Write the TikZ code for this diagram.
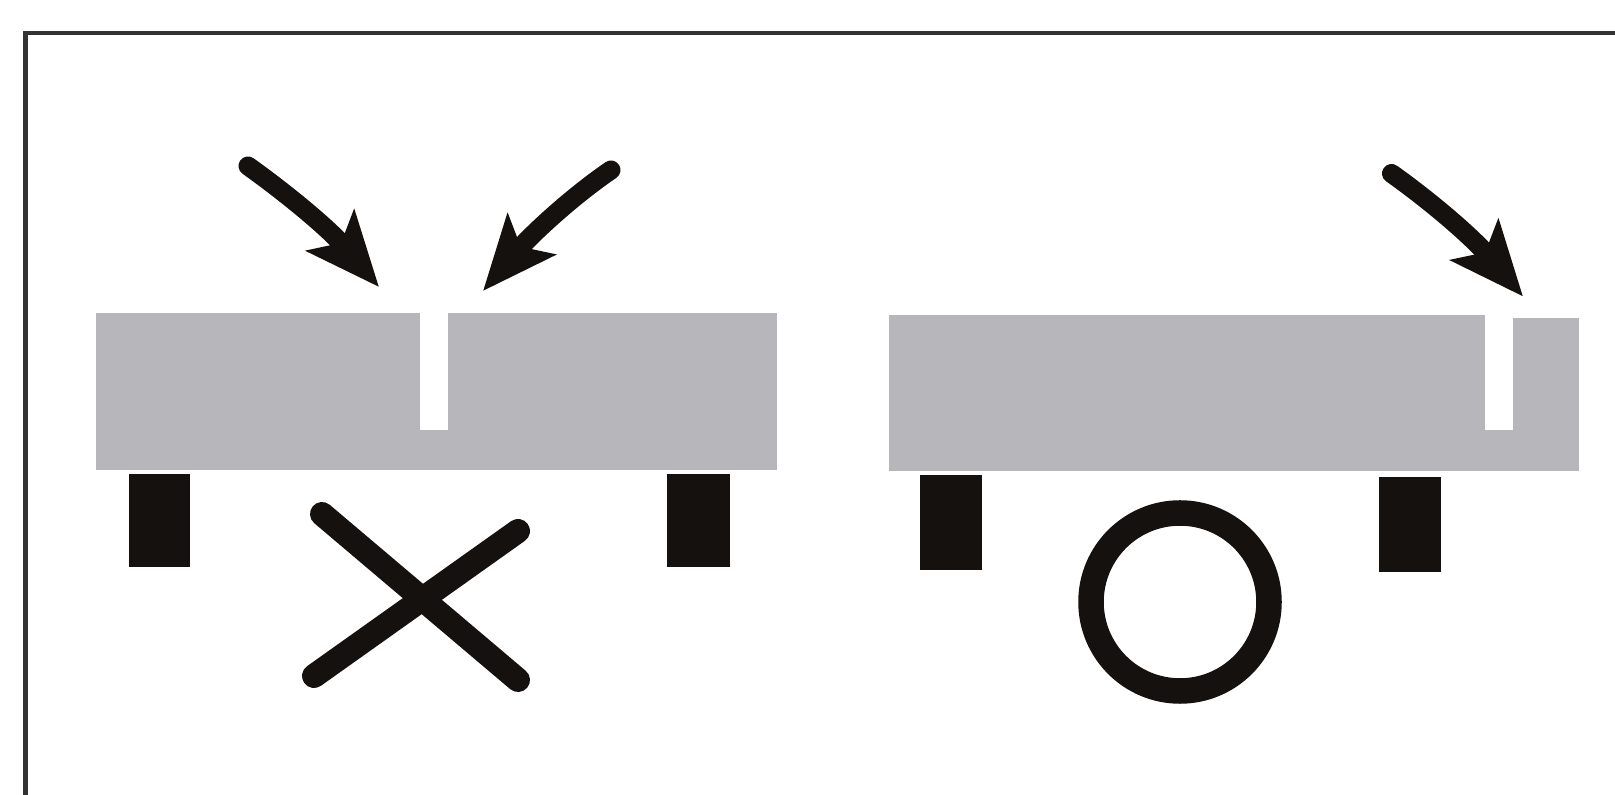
\documentclass[tikz,border=0pt]{standalone}
\usetikzlibrary{arrows.meta}
\definecolor{BeamGrey}{HTML}{B7B7BB}
\definecolor{FootBlack}{HTML}{14110E}
\definecolor{FrameGrey}{HTML}{333333}

\begin{document}
\begin{tikzpicture}[x=0.01cm, y=-0.01cm,
   beam/.style={fill=BeamGrey},
   slot/.style={fill=white},
   foot/.style={fill=FootBlack},
   crossbar/.style={draw=FootBlack, line width=0.24cm, line cap=round},
   hit/.style={draw=FootBlack, fill=FootBlack, line width=0.19cm, line cap=round,
               -{Stealth[length=0.74cm, width=0.62cm, inset=0.16cm]}}]
  \useasboundingbox (0,0) rectangle (1615,795);
  \draw[FrameGrey, line width=0.04cm] (25.5,795) -- (25.5,33) -- (1615,33);
  % left beam, slot in the middle
  \fill[beam] (96,313) rectangle (777,470.5);
  \fill[slot] (420,308) rectangle (447.5,430);
  \fill[foot] (128.5,474) rectangle (190,567.5);
  \fill[foot] (667,474) rectangle (730,567.5);
  % right beam, slot near the end
  \fill[beam] (889,315) rectangle (1484.5,471.5);
  \fill[beam] (1484,318) rectangle (1579,471.5);
  \fill[slot] (1484.5,308) rectangle (1512.5,430);
  \fill[foot] (919.5,475.5) rectangle (982,570.5);
  \fill[foot] (1379,477.5) rectangle (1440.5,572);
  % cross and circle
  \coordinate (c1) at (322,514);
  \coordinate (c2) at (518,680);
  \coordinate (c3) at (518,531);
  \coordinate (c4) at (314,676);
  \draw[crossbar] (c1) -- (c2);
  \draw[crossbar] (c3) -- (c4);
  \draw[draw=FootBlack, line width=0.255cm] (1180,602) circle (89);
  % arrows
  \coordinate (a1) at (248,166);
  \coordinate (b1) at (379,287);
  \coordinate (a2) at (611,170);
  \coordinate (b2) at (483,291);
  \coordinate (a3) at (1391.5,173.5);
  \coordinate (b3) at (1523,296.5);
  \draw[hit] (a1) .. controls (290,196) and (330,230) .. (b1);
  \draw[hit] (a2) .. controls (570,198) and (530,236) .. (b2);
  \draw[hit] (a3) .. controls (1433,203) and (1473,238) .. (b3);
\end{tikzpicture}
\end{document}
